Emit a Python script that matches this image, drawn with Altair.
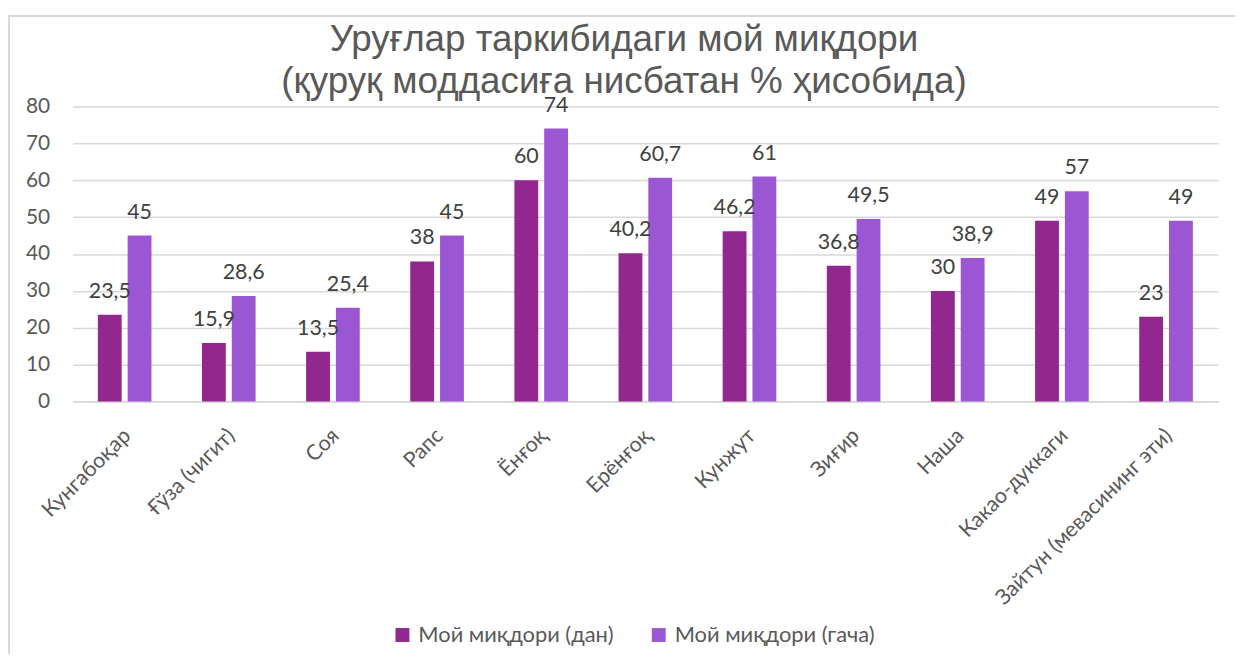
import altair as alt
import pandas as pd

categories = ["Кунгабоқар", "Ғўза (чигит)", "Соя", "Рапс", "Ёнғоқ", "Ерёнғоқ",
              "Кунжут", "Зиғир", "Наша", "Какао-дуккаги", "Зайтун (мевасининг эти)"]
series = ["Мой миқдори (дан)", "Мой миқдори (гача)"]
values_from = [23.5, 15.9, 13.5, 38, 60, 40.2, 46.2, 36.8, 30, 49, 23]
values_to = [45, 28.6, 25.4, 45, 74, 60.7, 61, 49.5, 38.9, 57, 49]
y_ticks = [0, 10, 20, 30, 40, 50, 60, 70, 80]
colors = ["#92278F", "#9B57D3"]
title_lines = ["Уруғлар таркибидаги мой миқдори", "(қуруқ моддасиға нисбатан % ҳисобида)"]

rows = []
for c, a, b in zip(categories, values_from, values_to):
    rows.append({"cat": c, "series": series[0], "v": a})
    rows.append({"cat": c, "series": series[1], "v": b})
df = pd.DataFrame(rows)

W, H = 1153, 297
LF = "Lato"

x = alt.X("cat:N", sort=categories,
          scale=alt.Scale(paddingInner=0.485, paddingOuter=0.2425),
          axis=alt.Axis(title=None, labelAngle=-45, labelAlign="right", labelBaseline="middle",
                        labelPadding=31, labelOffset=3, labelFontSize=21.5, labelFont=LF,
                        labelColor="#595959", ticks=False, domainColor="#D9D9D9",
                        domainWidth=1.5, grid=False, labelLimit=400))
xo = alt.XOffset("series:N", sort=series, scale=alt.Scale(paddingInner=0.2, paddingOuter=0))
y = alt.Y("v:Q", scale=alt.Scale(domain=[0, 80]),
          axis=alt.Axis(title=None, values=y_ticks, domain=False, ticks=False,
                        gridColor="#D9D9D9", gridWidth=1.5, labelFontSize=21, labelFont=LF,
                        labelColor="#595959", labelPadding=23, labelOverlap=False,
                        tickCount=9))

one = pd.DataFrame({"a": [0]})

frame = alt.Chart(one).mark_rect(
    fillOpacity=0, stroke="#D9D9D9", strokeWidth=2
).encode(x=alt.value(-64), x2=alt.value(W + 40), y=alt.value(-91), y2=alt.value(H + 300))

title1 = alt.Chart(one).mark_text(
    text=title_lines[0], fontSize=37, font="Liberation Sans", color="#595959",
    align="center", baseline="alphabetic"
).encode(x=alt.value(555), y=alt.value(-56))
title2 = alt.Chart(one).mark_text(
    text=title_lines[1], fontSize=37, font="Liberation Sans", color="#595959",
    align="center", baseline="alphabetic"
).encode(x=alt.value(555), y=alt.value(-14))

bars = alt.Chart(df).mark_bar().encode(
    x=x, xOffset=xo, y=y,
    color=alt.Color("series:N", sort=series,
                    scale=alt.Scale(domain=series, range=colors),
                    legend=alt.Legend(title=None, orient="none", legendX=321, legendY=521,
                                      direction="horizontal", symbolType="square",
                                      symbolSize=196, symbolStrokeWidth=0,
                                      labelFontSize=22, labelFont=LF, labelColor="#595959",
                                      labelOffset=5, columnPadding=34, labelLimit=0))
)

labels = alt.Chart(df).transform_calculate(
    lab="replace(toString(datum.v), '.', ',')"
).mark_text(baseline="alphabetic", dy=-17, fontSize=21.5, font=LF, color="#404040").encode(
    x=x, xOffset=xo, y=y, text="lab:N"
)

chart = alt.layer(frame, bars, labels, title1, title2).properties(
    width=W, height=H,
    autosize=alt.AutoSizeParams(type="none"),
    padding={"left": 65, "top": 97, "right": 17, "bottom": 252},
).configure_view(stroke=None)

chart.save("out.html", embed_options={"renderer": "svg", "actions": False})
